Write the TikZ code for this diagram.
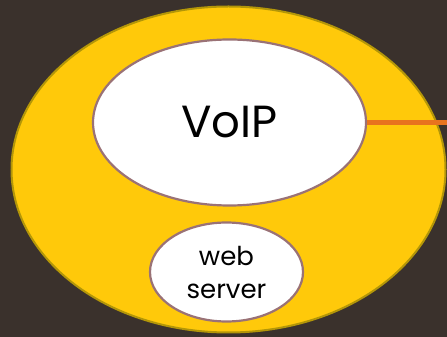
\documentclass[tikz,border=0pt]{standalone}
\usepackage{fontspec}
\setmainfont{Poppins}
\usetikzlibrary{shapes.geometric}
\definecolor{bgdark}{HTML}{3A312C}
\definecolor{zonefill}{HTML}{FFC90A}
\definecolor{zoneedge}{HTML}{B39608}
\definecolor{hostedge}{HTML}{9A7276}
\definecolor{linkorange}{HTML}{E8731E}
\tikzset{
  zone/.style={ellipse, draw=zoneedge, line width=2pt, fill=zonefill, inner sep=0pt},
  host/.style={ellipse, draw=hostedge, line width=2.2pt, fill=white, inner sep=0pt, align=center, text=black},
  link/.style={draw=linkorange, line width=5pt}
}
\begin{document}
\begin{tikzpicture}[x=1pt,y=1pt]
  \fill[bgdark] (0,0) rectangle (447,337);
  \useasboundingbox (0,0) rectangle (447,337);
  \node[zone, minimum width=434pt, minimum height=326pt] (lan) at (228.5,167.5) {};
  \node[host, minimum width=273pt, minimum height=166pt, font=\fontsize{45}{54}\selectfont] (voip) at (229.5,214.5) {VoIP};
  \node[host, minimum width=153pt, minimum height=99pt, font=\fontsize{26}{33}\selectfont] (web) at (226.5,65) {web\\server};
  \coordinate (out) at (450,214.5);
  \draw[link] (voip.east) -- (out);
\end{tikzpicture}
\end{document}
